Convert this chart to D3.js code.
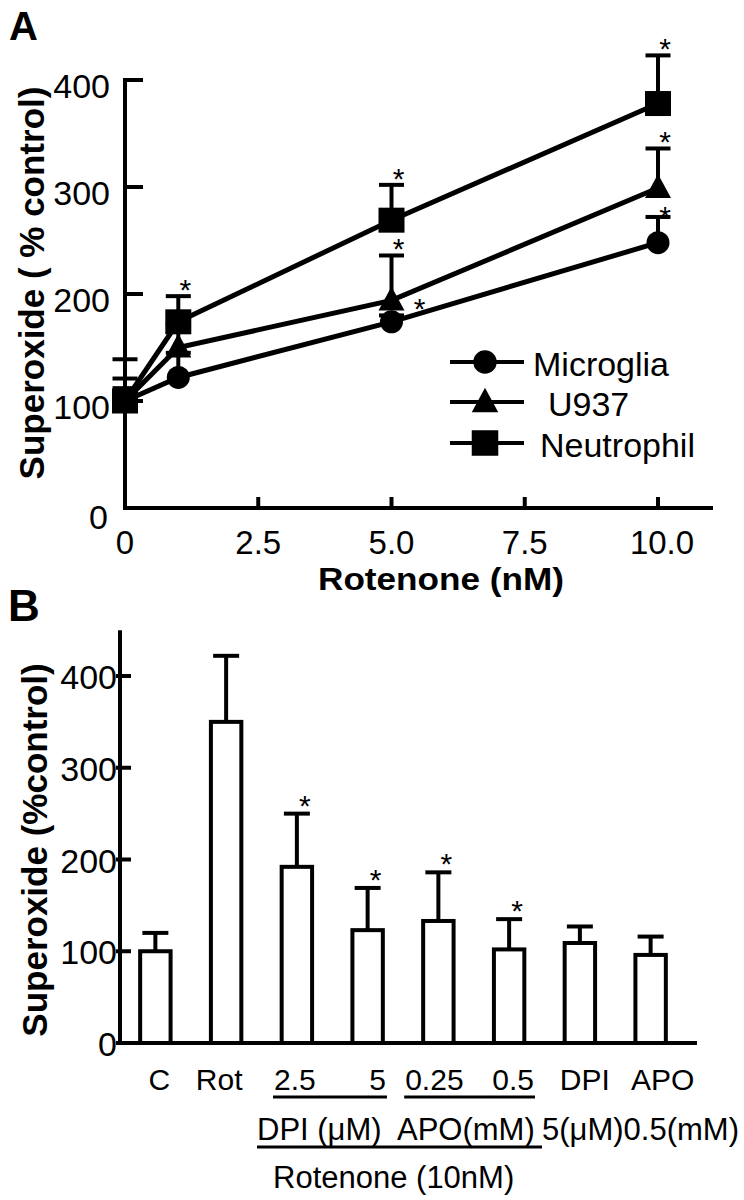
<!DOCTYPE html>
<html><head><meta charset="utf-8">
<script src="https://cdn.jsdelivr.net/npm/d3@7"></script>
<style>body{margin:0;background:#fff}svg{display:block}text{font-family:"Liberation Sans",Arial,Helvetica,sans-serif;fill:#000}</style>
</head><body><svg id="c" width="744" height="1200"></svg>
<script>
// ---------- Panel A data ----------
const doses = [0, 1, 5, 10];
const seriesNames = ["Microglia", "U937", "Neutrophil"];
const microglia = [100, 122, 174, 248];
const microgliaErr = [112, 145, 180, 272];
const u937 = [100, 150, 194, 299];
const u937Err = [121, 172, 236, 336];
const neutrophil = [100, 174, 269, 378];
const neutrophilErr = [139, 198, 302, 423];
const microgliaStar = [false, false, true, true];
const u937Star = [false, false, true, true];
const neutrophilStar = [false, true, true, true];
const xTicksA = [0, 2.5, 5.0, 7.5, 10.0];
const xTickLabelsA = ["0", "2.5", "5.0", "7.5", "10.0"];
const yTicksA = [0, 100, 200, 300, 400];

// ---------- Panel B data ----------
const categoriesB = ["C", "Rot", "2.5", "5", "0.25", "0.5", "DPI", "APO"];
const valuesB = [100, 350, 192, 123, 133, 102, 109, 96];
const errB = [120, 422, 250, 169, 186, 135, 127, 116];
const starsB = [false, false, true, true, true, true, false, false];
const yTicksB = [0, 100, 200, 300, 400];

// ---------- layout ----------
const svg = d3.select("#c");
const K = "#000";

// ===== Panel A =====
const xA = d3.scaleLinear().domain([0, 10]).range([125, 658]);
const yA = d3.scaleLinear().domain([0, 400]).range([508, 80]);
const gA = svg.append("g");

svg.append("text").attr("x", 9).attr("y", 40).attr("font-size", 40).attr("font-weight", "bold").text("A");

// axes
gA.append("line").attr("x1", xA(0)).attr("x2", 713).attr("y1", yA(0)).attr("y2", yA(0)).attr("stroke", K).attr("stroke-width", 4);
gA.append("line").attr("x1", xA(0)).attr("x2", xA(0)).attr("y1", yA(400) - 2).attr("y2", yA(0) + 2).attr("stroke", K).attr("stroke-width", 4);
gA.selectAll(".yt").data(yTicksA.filter(d => d > 0)).join("line")
  .attr("x1", xA(0)).attr("x2", xA(0) + 18).attr("y1", d => yA(d)).attr("y2", d => yA(d))
  .attr("stroke", K).attr("stroke-width", 4);
gA.selectAll(".ytl").data(yTicksA).join("text")
  .attr("x", d => d === 0 ? 108 : 110).attr("y", d => yA(d) + (d === 0 ? 21 : 18))
  .attr("text-anchor", "end").attr("font-size", 34).text(d => d);
gA.selectAll(".xt").data(xTicksA.filter(d => d > 0)).join("line")
  .attr("x1", d => xA(d)).attr("x2", d => xA(d)).attr("y1", yA(0)).attr("y2", yA(0) - 11)
  .attr("stroke", K).attr("stroke-width", 4);
gA.selectAll(".xtl").data(xTicksA).join("text")
  .attr("x", d => xA(d) + (d === 10 ? 4 : 0)).attr("y", 554)
  .attr("text-anchor", "middle").attr("font-size", 33).text((d, i) => xTickLabelsA[i]);
gA.append("text").attr("x", 441).attr("y", 590).attr("text-anchor", "middle")
  .attr("font-size", 32).attr("font-weight", "bold")
  .attr("textLength", 246).attr("lengthAdjust", "spacingAndGlyphs").text("Rotenone (nM)");
gA.append("text").attr("transform", "translate(44,283) rotate(-90)").attr("text-anchor", "middle")
  .attr("font-size", 35).attr("font-weight", "bold").text("Superoxide ( % control)");

const seriesA = [
  {name: seriesNames[0], vals: microglia, err: microgliaErr, star: microgliaStar, shape: "circle"},
  {name: seriesNames[1], vals: u937, err: u937Err, star: u937Star, shape: "triangle"},
  {name: seriesNames[2], vals: neutrophil, err: neutrophilErr, star: neutrophilStar, shape: "square"}
];

function marker(sel, shape, s) {
  s = s || 1;
  if (shape === "circle") sel.append("circle").attr("r", 11.5 * s).attr("fill", K);
  else if (shape === "square") sel.append("rect").attr("x", -13 * s).attr("y", -12.5 * s).attr("width", 26 * s).attr("height", 25 * s).attr("fill", K);
  else sel.append("path").attr("d", `M0,${-14 * s}L${13 * s},${10 * s}L${-13 * s},${10 * s}Z`).attr("fill", K);
}

// error bars
seriesA.forEach(s => {
  doses.forEach((d, i) => {
    gA.append("line").attr("x1", xA(d)).attr("x2", xA(d)).attr("y1", yA(s.vals[i])).attr("y2", yA(s.err[i]))
      .attr("stroke", K).attr("stroke-width", 4);
    gA.append("line").attr("x1", xA(d) - 12.5).attr("x2", xA(d) + 12.5).attr("y1", yA(s.err[i])).attr("y2", yA(s.err[i]))
      .attr("stroke", K).attr("stroke-width", 4);
  });
});
// lines
const lineA = d3.line().x((d, i) => xA(doses[i])).y(d => yA(d));
seriesA.forEach(s => {
  gA.append("path").attr("d", lineA(s.vals)).attr("fill", "none").attr("stroke", K).attr("stroke-width", 5);
});
// markers
seriesA.forEach(s => {
  doses.forEach((d, i) => {
    const g = gA.append("g").attr("transform", `translate(${xA(d)},${yA(s.vals[i])})`);
    marker(g, s.shape);
  });
});
// stars
seriesA.forEach((s, si) => {
  doses.forEach((d, i) => {
    if (!s.star[i]) return;
    let sx = xA(d) + 7, sy = yA(s.err[i]) + 4;
    if (si === 0 && d === 5) { sx = xA(d) + 28; sy = yA(s.vals[i]) - 3; }
    if (si === 0 && d === 10) { sy = yA(s.err[i]) + 10; }
    gA.append("text").attr("x", sx).attr("y", sy).attr("text-anchor", "middle").attr("font-size", 30).text("*");
  });
});

// legend
const legY = [362, 402, 443];
seriesA.forEach((s, i) => {
  gA.append("line").attr("x1", 450).attr("x2", 524).attr("y1", legY[i]).attr("y2", legY[i]).attr("stroke", K).attr("stroke-width", 4);
  const g = gA.append("g").attr("transform", `translate(485,${legY[i]})`);
  marker(g, s.shape, 1.02);
  gA.append("text").attr("x", i === 1 ? 548 : (i === 2 ? 540 : 533)).attr("y", legY[i] + 14)
    .attr("font-size", 34).text(s.name);
});

// ===== Panel B =====
const xB = d3.scaleBand().domain(categoriesB).range([120, 686]).paddingInner(0.57).paddingOuter(0.285);
const yB = d3.scaleLinear().domain([0, 400]).range([1043, 676]);
const gB = svg.append("g");

svg.append("text").attr("x", 8).attr("y", 621).attr("font-size", 44).attr("font-weight", "bold").text("B");

gB.append("line").attr("x1", 120).attr("x2", 120).attr("y1", yB(450)).attr("y2", yB(0) + 2).attr("stroke", K).attr("stroke-width", 4);
gB.append("line").attr("x1", 118).attr("x2", 697).attr("y1", yB(0)).attr("y2", yB(0)).attr("stroke", K).attr("stroke-width", 4);
gB.selectAll(".ytb").data(yTicksB).join("line")
  .attr("x1", 116).attr("x2", 131).attr("y1", d => yB(d)).attr("y2", d => yB(d)).attr("stroke", K).attr("stroke-width", 4);
gB.selectAll(".ytlb").data(yTicksB).join("text")
  .attr("x", 117).attr("y", d => yB(d) + 13).attr("text-anchor", "end").attr("font-size", 34).text(d => d);
gB.append("text").attr("transform", "translate(47,850) rotate(-90)").attr("text-anchor", "middle")
  .attr("font-size", 35).attr("font-weight", "bold").text("Superoxide (%control)");

// error bars
categoriesB.forEach((c, i) => {
  const cx = xB(c) + xB.bandwidth() / 2;
  gB.append("line").attr("x1", cx).attr("x2", cx).attr("y1", yB(valuesB[i])).attr("y2", yB(errB[i])).attr("stroke", K).attr("stroke-width", 4);
  gB.append("line").attr("x1", cx - 13).attr("x2", cx + 13).attr("y1", yB(errB[i])).attr("y2", yB(errB[i])).attr("stroke", K).attr("stroke-width", 4);
  if (starsB[i]) gB.append("text").attr("x", cx + 8).attr("y", yB(errB[i]) + 2).attr("text-anchor", "middle").attr("font-size", 30).text("*");
});
// bars
gB.selectAll(".bar").data(valuesB).join("rect")
  .attr("x", (d, i) => xB(categoriesB[i])).attr("width", xB.bandwidth())
  .attr("y", d => yB(d)).attr("height", d => yB(0) - yB(d))
  .attr("fill", "#fff").attr("stroke", K).attr("stroke-width", 4);

// category labels
const labelDx = [4, -7, -2, 10, -4, 4, 5, 12];
const catLabels = gB.selectAll(".cl").data(categoriesB).join("text")
  .attr("x", (d, i) => xB(d) + xB.bandwidth() / 2 + labelDx[i]).attr("y", 1090)
  .attr("text-anchor", "middle").attr("font-size", 30).text(d => d);
function underline(i0, i1, y) {
  const n = catLabels.nodes();
  const b0 = n[i0].getBBox(), b1 = n[i1].getBBox();
  gB.append("line").attr("x1", b0.x - 1).attr("x2", b1.x + b1.width + 1).attr("y1", y).attr("y2", y).attr("stroke", K).attr("stroke-width", 3);
}
underline(2, 3, 1097);
underline(4, 5, 1097);

gB.append("text").attr("x", 257).attr("y", 1140).attr("font-size", 31).text("DPI (μM)");
gB.append("text").attr("x", 397).attr("y", 1140).attr("font-size", 31).text("APO(mM)");
gB.append("text").attr("x", 542).attr("y", 1140).attr("font-size", 31).text("5(μM)0.5(mM)");
gB.append("line").attr("x1", 257).attr("x2", 542).attr("y1", 1147).attr("y2", 1147).attr("stroke", K).attr("stroke-width", 3);
gB.append("text").attr("x", 273).attr("y", 1188).attr("font-size", 31).text("Rotenone (10nM)");
</script></body></html>
